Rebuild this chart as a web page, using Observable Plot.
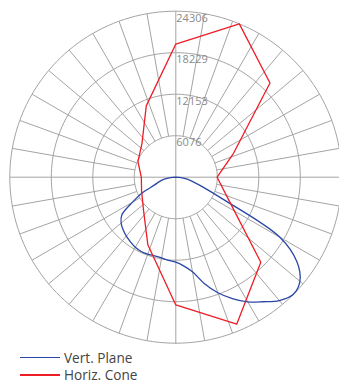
<!DOCTYPE html>
<html>
<head>
<meta charset="utf-8">
<script src="https://cdn.jsdelivr.net/npm/d3@7"></script>
<script src="https://cdn.jsdelivr.net/npm/@observablehq/plot@0.6"></script>
<style>
  html, body { margin: 0; padding: 0; background: #fff; overflow: hidden; }
  #chart svg { display: block; }
  .legend { padding-top: 5.6px; font-family: "Open Sans", sans-serif; font-size: 13.6px; line-height: 14px; color: #444; }
  .row { height: 14px; display: flex; align-items: center; margin-bottom: 3.4px; }
  .sw { display: block; width: 40px; height: 1.4px; margin-left: 20px; margin-right: 4px; }
</style>
</head>
<body>
<div id="chart"></div>
<div class="legend" id="legend"></div>
<script>
// ---- data ----
const maxValue = 24306;
const ringValues = [6076.5, 12153, 18229.5, 24306];
const ringLabels = ["6076", "12153", "18229", "24306"];

const seriesNames = ["Vert. Plane", "Horiz. Cone"];
const seriesColors = ["#2a47a6", "#ee1d25"];

// angles in degrees from nadir (down = 0), positive to the right
const vertAngles = [-90, -85, -80, -75, -70, -65, -60, -55, -50, -45, -40, -35, -30, -25, -20, -15, -10, -5,
  0, 5, 10, 15, 20, 25, 30, 35, 40, 45, 50, 55, 60, 65, 70, 75, 80, 85, 90];
const vertValues = [0, 800, 1700, 2500, 3300, 5400, 7300, 9650, 10450, 10900, 11270, 11570, 11860, 12000, 12000, 11930, 12000, 12230,
  12450, 13030, 14060, 16100, 18000, 19600, 21080, 22260, 23570, 24300, 23720, 21670, 17600, 7600, 4250, 2640, 1700, 800, 0];

const coneAngles = [0, 22.5, 45, 67.5, 90, 112.5, 135, 157.5, 180, -157.5, -135, -112.5, -90, -67.5, -45, -22.5, 0];
const coneValues = [18700, 23300, 17600, 8300, 6050, 9150, 19500, 24306, 19500, 11300, 7000, 6000, 5050, 5420, 6700, 10700, 18700];

// ---- helpers ----
const rad = a => a * Math.PI / 180;
const px = (a, v) => v * Math.sin(rad(a));
const py = (a, v) => -v * Math.cos(rad(a));

const vert = vertAngles.map((a, i) => ({a, v: vertValues[i]}));
const cone = coneAngles.map((a, i) => ({a, v: coneValues[i]}));

const ringPts = ringValues.flatMap((r, k) => d3.range(0, 361, 2).map(a => ({ring: k, a, v: r})));
const spokes = d3.range(0, 360, 10).map(a => ({a, r0: a % 90 === 0 ? 0 : ringValues[0], r1: maxValue}));
const labels = ringValues.map((r, i) => ({r, t: ringLabels[i]}));

const gridColor = "#a4a4a4";

const chart = Plot.plot({
  width: 339,
  height: 345,
  marginLeft: 9.3,
  marginRight: -2.3,
  marginTop: 10.7,
  marginBottom: 2.3,
  style: {fontFamily: "'Open Sans', sans-serif", background: "#fff"},
  x: {domain: [-maxValue, maxValue], axis: null},
  y: {domain: [-maxValue, maxValue], axis: null},
  marks: [
    Plot.line(ringPts, {x: d => px(d.a, d.v), y: d => py(d.a, d.v), z: "ring", stroke: gridColor, strokeWidth: 1}),
    Plot.link(spokes, {x1: d => px(d.a, d.r0), y1: d => py(d.a, d.r0), x2: d => px(d.a, d.r1), y2: d => py(d.a, d.r1), stroke: gridColor, strokeWidth: 1}),
    Plot.text(labels, {x: d => 0, y: d => d.r, text: "t", textAnchor: "start", dx: 0.5, dy: 7, fill: "#8a8a8a", fontSize: 11}),
    Plot.line(vert, {x: d => px(d.a, d.v), y: d => py(d.a, d.v), stroke: seriesColors[0], strokeWidth: 1.3, curve: "catmull-rom"}),
    Plot.line(cone, {x: d => px(d.a, d.v), y: d => py(d.a, d.v), stroke: seriesColors[1], strokeWidth: 1.3, curve: "linear"})
  ]
});
document.getElementById("chart").appendChild(chart);

const legend = document.getElementById("legend");
seriesNames.forEach((name, i) => {
  const row = document.createElement("div");
  row.className = "row";
  const sw = document.createElement("span");
  sw.className = "sw";
  sw.style.background = seriesColors[i];
  const label = document.createElement("span");
  label.textContent = name;
  row.appendChild(sw);
  row.appendChild(label);
  legend.appendChild(row);
});
</script>
</body>
</html>
